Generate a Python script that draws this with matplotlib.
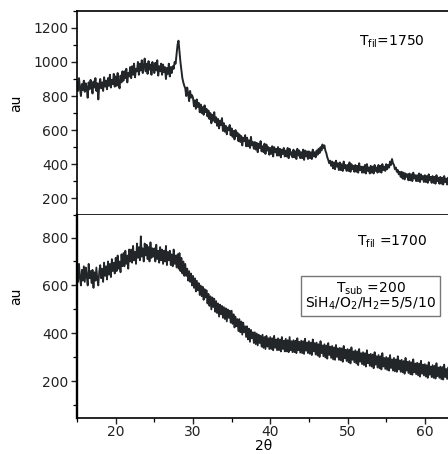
import numpy as np
import matplotlib
matplotlib.use("Agg")
import matplotlib.pyplot as plt
from matplotlib.ticker import MultipleLocator

plt.rcParams['font.family'] = ['DejaVu Sans']
plt.rcParams['mathtext.fontset'] = 'dejavusans'

# XRD scans, 2theta from 15 in steps of 0.125
two_theta = 15 + 0.125 * np.arange(389)

au_1750 = [
    880, 830, 905, 845, 800, 870, 835, 890,
    825, 875, 850, 790, 880, 840, 895, 860,
    815, 885, 850, 905, 830, 875, 780, 865,
    900, 845, 880, 830, 910, 855, 890, 840,
    905, 860, 925, 850, 895, 870, 930, 855,
    915, 860, 935, 875, 845, 920, 880, 945,
    890, 945, 905, 960, 880, 935, 915, 970,
    905, 975, 925, 990, 910, 960, 945, 1000,
    925, 990, 950, 1010, 935, 975, 1020, 945,
    990, 930, 1005, 955, 985, 925, 1000, 960,
    935, 995, 950, 1010, 920, 975, 945, 990,
    925, 985, 940, 970, 900, 965, 930, 990,
    915, 970, 935, 975, 960, 1000, 990, 1045,
    1100, 1125, 1060, 1000, 950, 905, 880, 860,
    845, 800, 850, 815, 770, 830, 790, 805,
    790, 740, 775, 725, 780, 735, 760, 705,
    750, 700, 735, 690, 745, 705, 725, 680,
    715, 665, 700, 640, 690, 655, 705, 645,
    675, 625, 665, 610, 655, 630, 670, 595,
    640, 590, 625, 575, 615, 600, 630, 570,
    610, 560, 595, 545, 600, 565, 585, 535,
    575, 530, 565, 510, 555, 535, 570, 505,
    555, 505, 540, 495, 560, 510, 530, 490,
    530, 485, 525, 470, 520, 495, 535, 475,
    505, 470, 520, 460, 515, 480, 500, 455,
    495, 460, 505, 445, 500, 470, 490, 450,
    500, 450, 490, 440, 485, 460, 495, 445,
    480, 445, 495, 435, 490, 455, 470, 440,
    485, 440, 475, 430, 490, 450, 480, 435,
    470, 435, 485, 425, 480, 445, 475, 430,
    475, 435, 470, 430, 485, 445, 470, 440,
    480, 455, 490, 465, 500, 480, 515, 495,
    510, 480, 465, 440, 425, 405, 420, 390,
    415, 375, 410, 370, 420, 385, 405, 365,
    410, 365, 400, 360, 415, 375, 395, 360,
    395, 360, 410, 355, 400, 370, 390, 355,
    395, 355, 390, 350, 405, 365, 385, 350,
    385, 350, 395, 345, 400, 360, 380, 345,
    390, 350, 385, 345, 395, 360, 380, 350,
    395, 355, 390, 350, 400, 365, 385, 360,
    400, 370, 395, 380, 415, 395, 430, 405,
    395, 370, 380, 355, 365, 340, 355, 325,
    355, 315, 350, 310, 345, 325, 340, 305,
    345, 305, 340, 300, 350, 315, 335, 300,
    335, 300, 345, 295, 340, 310, 330, 295,
    335, 295, 330, 290, 340, 305, 325, 290,
    330, 290, 325, 285, 335, 300, 320, 285,
    325, 285, 320, 280, 330, 295, 315, 280,
    320, 282, 315, 278, 310,
]

au_1700 = [
    670, 615, 690, 630, 600, 665, 620, 680,
    615, 675, 640, 600, 690, 630, 660, 610,
    665, 590, 655, 620, 675, 625, 600, 660,
    685, 630, 670, 615, 695, 640, 680, 625,
    700, 645, 690, 635, 710, 660, 695, 650,
    715, 660, 725, 670, 700, 655, 730, 680,
    735, 680, 745, 690, 725, 670, 750, 700,
    750, 695, 765, 705, 740, 690, 775, 715,
    760, 705, 805, 720, 755, 700, 775, 725,
    770, 710, 760, 700, 780, 715, 755, 720,
    755, 700, 770, 710, 745, 695, 760, 705,
    750, 690, 745, 700, 765, 685, 740, 705,
    745, 685, 730, 680, 750, 690, 725, 675,
    730, 670, 735, 660, 715, 650, 700, 640,
    690, 640, 670, 620, 660, 615, 650, 600,
    640, 590, 630, 575, 620, 580, 610, 560,
    600, 555, 595, 540, 585, 550, 580, 525,
    565, 515, 555, 500, 550, 510, 545, 490,
    535, 485, 525, 470, 520, 480, 515, 465,
    510, 460, 505, 450, 500, 465, 495, 445,
    495, 440, 480, 425, 470, 430, 460, 410,
    460, 405, 450, 395, 445, 405, 430, 385,
    430, 375, 420, 365, 415, 380, 405, 360,
    405, 355, 400, 350, 395, 360, 390, 345,
    395, 340, 385, 335, 390, 345, 380, 335,
    385, 335, 380, 330, 390, 340, 375, 330,
    380, 330, 375, 325, 385, 335, 370, 325,
    378, 325, 372, 322, 385, 330, 368, 322,
    372, 322, 370, 318, 380, 330, 365, 320,
    370, 318, 368, 315, 378, 328, 362, 318,
    368, 315, 362, 310, 375, 325, 360, 312,
    362, 308, 355, 302, 368, 318, 350, 305,
    355, 300, 350, 295, 360, 310, 345, 298,
    348, 292, 342, 290, 352, 302, 338, 290,
    340, 288, 338, 282, 348, 296, 332, 285,
    335, 280, 332, 275, 342, 290, 325, 280,
    330, 275, 325, 268, 335, 282, 318, 272,
    322, 268, 318, 262, 330, 276, 312, 265,
    315, 262, 312, 255, 322, 270, 305, 258,
    310, 255, 305, 250, 318, 262, 298, 252,
    302, 248, 298, 245, 310, 256, 292, 245,
    298, 242, 292, 240, 305, 250, 288, 240,
    290, 238, 285, 232, 298, 245, 282, 235,
    285, 230, 280, 228, 292, 238, 275, 230,
    278, 225, 275, 220, 286, 232, 270, 225,
    272, 220, 268, 215, 280, 228, 262, 218,
    268, 215, 265, 212, 276, 222, 258, 215,
    262, 210, 260, 208, 270, 218, 252, 210,
    258, 205, 255, 212, 250,
]

fig = plt.figure(figsize=(4.48, 4.54), dpi=100)
ax1 = fig.add_axes([0.172, 0.526, 0.835, 0.450])
ax2 = fig.add_axes([0.172, 0.079, 0.835, 0.447])

line_col = '#232628'
for ax in (ax1, ax2):
    ax.spines['right'].set_visible(False)
    for s in ('left', 'top', 'bottom'):
        ax.spines[s].set_linewidth(1.2)
    ax.tick_params(direction='out', length=4, width=1.0, labelsize=10,
                   pad=2, colors='#222', right=False, top=False)
    ax.tick_params(which='minor', direction='out', length=3, width=0.9)
    ax.set_xlim(15, 63.4)
ax2.spines['left'].set_linewidth(1.7)
ax2.tick_params(axis='x', pad=1)

ax1.plot(two_theta, au_1750, color=line_col, lw=1.4)
ax1.set_ylim(100, 1300)
ax1.set_yticks([200, 400, 600, 800, 1000, 1200])
ax1.yaxis.set_minor_locator(MultipleLocator(100))
ax1.xaxis.set_major_locator(MultipleLocator(5))
ax1.set_xticklabels([])
ax1.set_ylabel('au', fontsize=10)
ax1.yaxis.set_label_coords(-0.145, 0.55)
ax1.text(0.842, 0.848, r'T$_{\rm fil}$=1750', transform=ax1.transAxes,
         fontsize=10, ha='center', va='center')

ax2.plot(two_theta, au_1700, color=line_col, lw=1.3)
ax2.set_ylim(47, 893)
ax2.set_yticks([200, 400, 600, 800])
ax2.yaxis.set_minor_locator(MultipleLocator(100))
ax2.xaxis.set_major_locator(MultipleLocator(10))
ax2.xaxis.set_minor_locator(MultipleLocator(5))
ax2.spines['top'].set_visible(False)
ax2.set_ylabel('au', fontsize=10)
ax2.yaxis.set_label_coords(-0.145, 0.60)
ax2.set_xlabel('2θ', fontsize=10, labelpad=0)
ax2.text(0.843, 0.867, r'T$_{\rm fil}$ =1700', transform=ax2.transAxes,
         fontsize=10, ha='center', va='center')
ax2.text(0.785, 0.60, 'T$_{\\rm sub}$ =200\nSiH$_4$/O$_2$/H$_2$=5/5/10',
         transform=ax2.transAxes, fontsize=10, ha='center', va='center',
         linespacing=0.85,
         bbox=dict(boxstyle='square,pad=0.3', fc='white', ec='#777', lw=1.0))

fig.savefig('out.png', dpi=100)
